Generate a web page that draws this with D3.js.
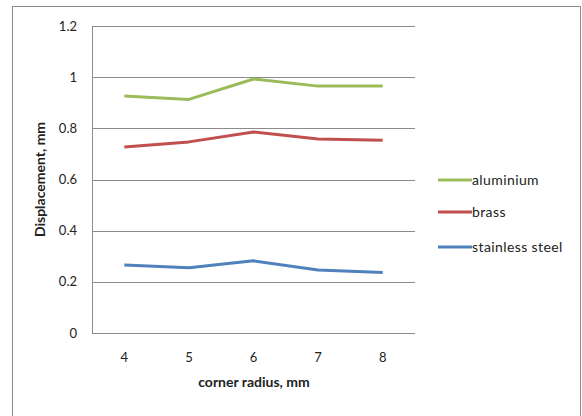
<!DOCTYPE html>
<html>
<head>
<meta charset="utf-8">
<script src="https://cdn.jsdelivr.net/npm/d3@7"></script>
<style>
  body { margin: 0; background: #fff; }
  text { font-family: Lato, "Open Sans", sans-serif; fill: #222; }
</style>
</head>
<body>
<div id="chart"></div>
<script>
const radii = [4, 5, 6, 7, 8];
const aluminium = [0.926, 0.913, 0.993, 0.965, 0.965];
const brass = [0.727, 0.747, 0.786, 0.758, 0.753];
const stainless = [0.266, 0.255, 0.282, 0.246, 0.236];
const yTicks = [0, 0.2, 0.4, 0.6, 0.8, 1, 1.2];

const series = [
  { name: 'aluminium', values: aluminium, color: '#9BBB59' },
  { name: 'brass', values: brass, color: '#C0504D' },
  { name: 'stainless steel', values: stainless, color: '#4F81BD' }
];

const W = 582, H = 416;
const svg = d3.select('#chart').append('svg')
  .attr('width', W)
  .attr('height', H);

// chart border
svg.append('rect')
  .attr('x', 12.5).attr('y', 6.5)
  .attr('width', 568).attr('height', 420)
  .attr('fill', '#fff')
  .attr('stroke', '#8a8a8a');

const plot = { left: 92, right: 415, top: 26, bottom: 333 };

const x = d3.scalePoint()
  .domain(radii)
  .range([plot.left, plot.right])
  .padding(0.5);

const y = d3.scaleLinear()
  .domain([0, 1.2])
  .range([plot.bottom, plot.top]);

// gridlines
svg.append('g')
  .selectAll('line')
  .data(yTicks)
  .join('line')
  .attr('x1', plot.left)
  .attr('x2', plot.right)
  .attr('y1', d => Math.round(y(d)) + 0.5)
  .attr('y2', d => Math.round(y(d)) + 0.5)
  .attr('stroke', '#8c8c8c');

// y axis line
svg.append('line')
  .attr('x1', plot.left + 0.5).attr('x2', plot.left + 0.5)
  .attr('y1', plot.top).attr('y2', plot.bottom)
  .attr('stroke', '#8c8c8c');

// y tick labels
svg.append('g')
  .selectAll('text')
  .data(yTicks)
  .join('text')
  .attr('x', 77)
  .attr('y', d => y(d))
  .attr('dy', '0.35em')
  .attr('text-anchor', 'end')
  .style('font-size', '13px')
  .text(d => d);

// x tick labels
svg.append('g')
  .selectAll('text')
  .data(radii)
  .join('text')
  .attr('x', d => x(d))
  .attr('y', 357)
  .attr('dy', '0.35em')
  .attr('text-anchor', 'middle')
  .style('font-size', '13px')
  .text(d => d);

// axis titles
svg.append('text')
  .attr('x', 254)
  .attr('y', 382)
  .attr('dy', '0.35em')
  .attr('text-anchor', 'middle')
  .style('font-size', '14px')
  .style('font-weight', 'bold')
  .text('corner radius, mm');

svg.append('text')
  .attr('transform', `translate(40, ${(plot.top + plot.bottom) / 2}) rotate(-90)`)
  .attr('dy', '0.35em')
  .attr('text-anchor', 'middle')
  .style('font-size', '14px')
  .style('font-weight', 'bold')
  .text('Displacement, mm');

// lines
const line = d3.line()
  .x((d, i) => x(radii[i]))
  .y(d => y(d));

svg.append('g')
  .selectAll('path')
  .data(series)
  .join('path')
  .attr('d', d => line(d.values))
  .attr('fill', 'none')
  .attr('stroke', d => d.color)
  .attr('stroke-width', 3)
  .attr('stroke-linejoin', 'round');

// legend
const legendY = [180, 212, 247];
const legend = svg.append('g')
  .selectAll('g')
  .data(series)
  .join('g')
  .attr('transform', (d, i) => `translate(438, ${legendY[i]})`);

legend.append('line')
  .attr('x1', 0).attr('x2', 34)
  .attr('stroke', d => d.color)
  .attr('stroke-width', 3);

legend.append('text')
  .attr('x', 34)
  .attr('dy', '0.35em')
  .style('font-size', '14px')
  .style('letter-spacing', '0.4px')
  .text(d => d.name);
</script>
</body>
</html>
